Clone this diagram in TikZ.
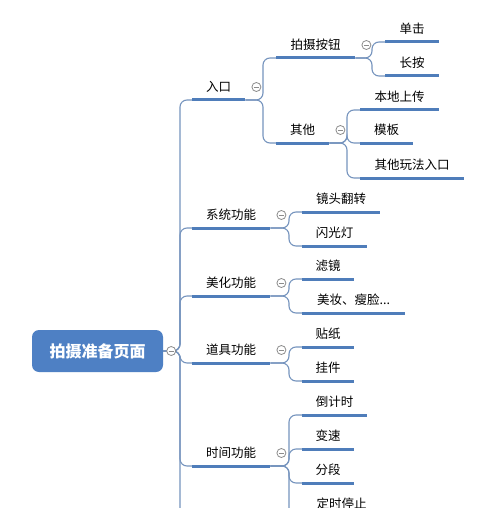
\documentclass[tikz,border=0pt]{standalone}
\usepackage{fontspec}
\setmainfont{Noto Sans CJK SC}
\usepackage{tikz}
\usetikzlibrary{calc}
\definecolor{barblue}{RGB}{79,125,186}
\definecolor{rootblue}{RGB}{78,128,196}
\definecolor{linkblue}{RGB}{118,148,190}
\definecolor{foldgray}{RGB}{140,140,140}
\tikzset{
  topic/.style={anchor=south west,minimum width=#1,inner xsep=0pt,inner ysep=5.5pt,
    text height=9.5pt,text depth=2.5pt,font=\fontsize{12.5}{14}\selectfont,text=black},
  rootbox/.style={rounded corners=7pt,fill=rootblue,minimum width=131pt,minimum height=42pt,
    text=white,font=\bfseries\fontsize{16}{18}\selectfont},
  bar/.style={line width=3pt,color=barblue},
  link/.style={line width=1.1pt,color=linkblue,rounded corners=7pt},
  fold/.style={circle,draw=foldgray,fill=white,line width=0.8pt,minimum size=9pt,inner sep=0pt,
    path picture={\draw[foldgray,line width=0.8pt]
      ([xshift=-2.5pt]path picture bounding box.center) -- ([xshift=2.5pt]path picture bounding box.center);}}
}

\begin{document}
\begin{tikzpicture}[x=1pt,y=-1pt]
  \useasboundingbox (0,0) rectangle (500,508);
  \fill[white] (0,0) rectangle (500,508);
  \clip (0,0) rectangle (500,508);

  % root
  \node[rootbox] (root) at (97.5,351) {拍摄准备页面};

  % level one
  \node[topic=53] (rk) at (192,100) {入口};
  \node[topic=78] (xt) at (192,228) {系统功能};
  \node[topic=78] (mh) at (192,296) {美化功能};
  \node[topic=78] (dj) at (192,363) {道具功能};
  \node[topic=78] (sj) at (192,466) {时间功能};
  \coordinate (tail) at (180,520);

  % level two
  \node[topic=79] (psan) at (276,58) {拍摄按钮};
  \node[topic=53] (qt) at (276,143) {其他};
  \node[topic=78] (jt) at (302,212) {镜头翻转};
  \node[topic=65] (sg) at (302,246) {闪光灯};
  \node[topic=52] (lj) at (302,279) {滤镜};
  \node[topic=103] (mz) at (302,313) {美妆、瘦脸...};
  \node[topic=52] (tz) at (302,347) {贴纸};
  \node[topic=52] (gj) at (302,381) {挂件};
  \node[topic=65] (djs) at (302,415) {倒计时};
  \node[topic=52] (bs) at (302,449) {变速};
  \node[topic=52] (fd) at (302,483) {分段};
  \node[topic=79] (ds) at (302,517) {定时停止};

  % level three
  \node[topic=54] (dan) at (385,42) {单击};
  \node[topic=54] (chang) at (385,76) {长按};
  \node[topic=79] (bd) at (360,110) {本地上传};
  \node[topic=53] (mb) at (360,143) {模板};
  \node[topic=104] (qw) at (360,178) {其他玩法入口};

  % links
  \foreach \c in {rk,xt,mh,dj,sj} {
    \draw[link] (root.east) -| ([xshift=-12pt]\c.south west) -- (\c.south west);
  }
  \draw[link] (root.east) -| (tail);
  \foreach \p/\c in {rk/psan,rk/qt,psan/dan,psan/chang,qt/bd,qt/mb,qt/qw,
                     xt/jt,xt/sg,mh/lj,mh/mz,dj/tz,dj/gj,sj/djs,sj/bs,sj/fd,sj/ds} {
    \draw[link] (\p.south east) -| ([xshift=-13pt]\c.south west) -- (\c.south west);
  }

  % bars
  \foreach \n in {rk,xt,mh,dj,sj,psan,qt,jt,sg,lj,mz,tz,gj,djs,bs,fd,ds,dan,chang,bd,mb,qw} {
    \draw[bar] (\n.south west) -- (\n.south east);
  }

  % fold marks
  \node[fold] (f-root) at ([xshift=8pt]root.east) {};
  \foreach \n in {rk,psan,qt,xt,mh,dj,sj} {
    \node[fold] (f-\n) at ([shift={(11pt,13pt)}]\n.south east) {};
  }
\end{tikzpicture}
\end{document}
